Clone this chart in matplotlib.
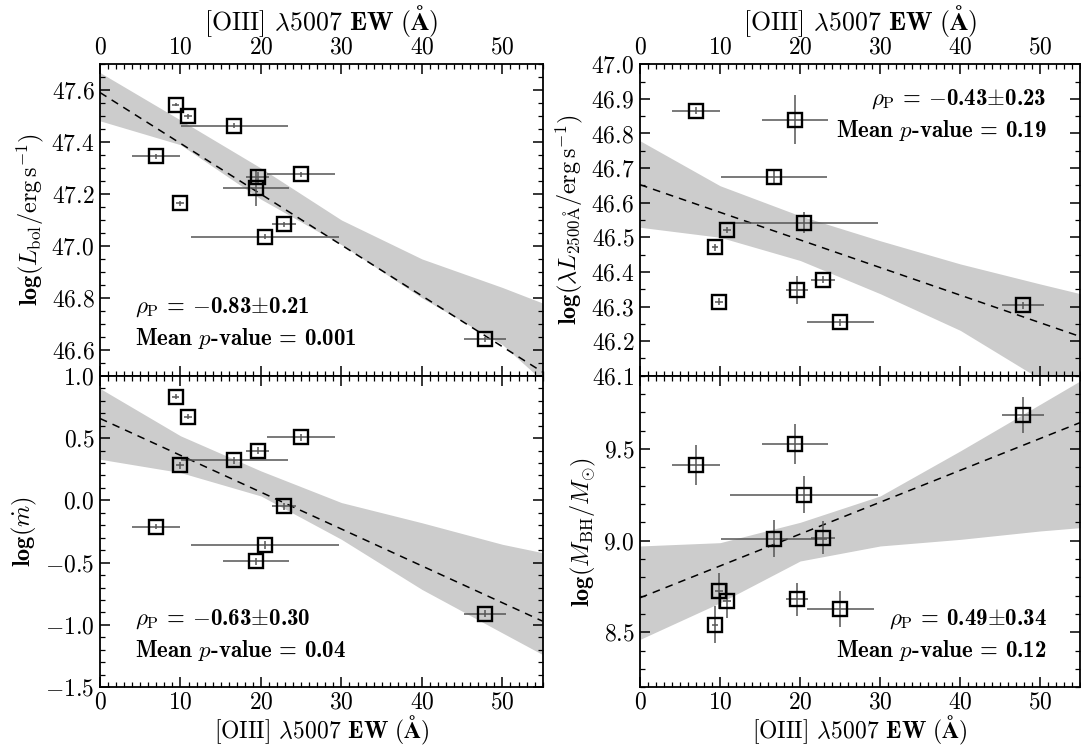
import numpy as np
import matplotlib.pyplot as plt
from matplotlib.ticker import MultipleLocator

plt.rc('mathtext', fontset='cm')
plt.rc('font', family='serif', size=17)
plt.rc('font', serif=['cmr10'])
plt.rcParams['axes.formatter.use_mathtext'] = True
plt.rcParams['axes.linewidth'] = 1.3

# [OIII] 5007 EW and errors, one entry per object
ew = [7.0, 9.4, 9.9, 10.9, 16.7, 19.6, 19.4, 20.5, 22.9, 25.0, 47.8]
ew_err = [3.0, 0.4, 0.5, 0.5, 6.6, 1.4, 4.1, 9.2, 1.5, 4.2, 2.6]

lbol = [47.345, 47.544, 47.165, 47.50, 47.463, 47.264, 47.223, 47.035, 47.083, 47.276, 46.641]
lbol_err = [0.01, 0.005, 0.01, 0.01, 0.01, 0.02, 0.07, 0.01, 0.01, 0.01, 0.01]

l2500 = [46.866, 46.471, 46.314, 46.521, 46.673, 46.347, 46.840, 46.542, 46.378, 46.254, 46.304]
l2500_err = [0.01, 0.01, 0.01, 0.01, 0.02, 0.04, 0.07, 0.03, 0.01, 0.01, 0.01]

mdot = [-0.21, 0.83, 0.28, 0.67, 0.32, 0.40, -0.49, -0.36, -0.048, 0.506, -0.91]
mdot_err = [0.02, 0.02, 0.03, 0.02, 0.03, 0.03, 0.03, 0.03, 0.03, 0.03, 0.03]

mbh = [9.414, 8.542, 8.726, 8.673, 9.011, 8.680, 9.529, 9.251, 9.015, 8.627, 9.685]
mbh_err = [0.11, 0.10, 0.10, 0.095, 0.10, 0.09, 0.11, 0.10, 0.09, 0.10, 0.10]

# best-fit lines (values at x = 0 and 55)
fit_x = [0, 55]
lbol_fit = [47.591, 46.514]
l2500_fit = [46.652, 46.213]
mdot_fit = [0.657, -0.970]
mbh_fit = [8.688, 9.645]

# confidence bands
band_x = [0, 10, 20, 30, 40, 50, 55]
lbol_hi = [47.668, 47.485, 47.30, 47.10, 46.95, 46.84, 46.78]
lbol_lo = [47.482, 47.39, 47.18, 47.005, 46.80, 46.62, 46.48]
l2500_hi = [46.779, 46.649, 46.562, 46.49, 46.423, 46.365, 46.337]
l2500_lo = [46.529, 46.50, 46.433, 46.337, 46.231, 46.09, 46.00]
mdot_hi = [0.898, 0.518, 0.236, -0.018, -0.18, -0.353, -0.42]
mdot_lo = [0.33, 0.223, 0.035, -0.313, -0.715, -1.064, -1.238]
mbh_hi = [8.971, 8.989, 9.10, 9.244, 9.49, 9.745, 9.873]
mbh_lo = [8.461, 8.661, 8.889, 8.971, 9.007, 9.053, 9.071]

xlab = r'[OIII] $\lambda$5007 $\mathbf{EW\ (\AA)}$'

panels = [
    # y, yerr, fit, hi, lo, ylim, major, minor, ylabel, stats, text pos
    (lbol, lbol_err, lbol_fit, lbol_hi, lbol_lo, (46.5, 47.7), 0.2, 0.05,
     r'$\mathbf{log(}L_{\rm bol}/{\rm erg\,s^{-1}}\mathbf{)}$', ('-0.83', '0.21', '0.001'), (0.079, 0.221, 'left')),
    (l2500, l2500_err, l2500_fit, l2500_hi, l2500_lo, (46.1, 47.0), 0.1, 0.05,
     r'$\mathbf{log(}\lambda L_{2500{\rm \AA}}/{\rm erg\,s^{-1}}\mathbf{)}$', ('-0.43', '0.23', '0.19'), (0.923, 0.888, 'right')),
    (mdot, mdot_err, mdot_fit, mdot_hi, mdot_lo, (-1.5, 1.0), 0.5, 0.1,
     r'$\mathbf{log(}\dot{m}\mathbf{)}$', ('-0.63', '0.30', '0.04'), (0.079, 0.219, 'left')),
    (mbh, mbh_err, mbh_fit, mbh_hi, mbh_lo, (8.2, 9.9), 0.5, 0.1,
     r'$\mathbf{log(}M_{\rm BH}/M_{\odot}\mathbf{)}$', ('0.49', '0.34', '0.12'), (0.923, 0.219, 'right')),
]

fig = plt.figure(figsize=(10.81, 7.47), dpi=100)
boxes = [
    [0.0925, 0.497, 0.4095, 0.417],
    [0.592, 0.497, 0.4075, 0.417],
    [0.0925, 0.080, 0.4095, 0.417],
    [0.592, 0.080, 0.4075, 0.417],
]

for i, (y, yerr, fit, hi, lo, ylim, maj, mnr, ylabel, stats, pos) in enumerate(panels):
    ax = fig.add_axes(boxes[i])
    ax.fill_between(band_x, lo, hi, color='#cccccc', lw=0, zorder=1)
    ax.plot(fit_x, fit, ls=(0, (5, 4)), color='k', lw=1.1, zorder=2)
    ax.errorbar(ew, y, xerr=ew_err, yerr=yerr, fmt='none', ecolor='#555555',
                elinewidth=1.1, capsize=0, zorder=3)
    ax.plot(ew, y, 's', ms=9.5, mfc='none', mec='k', mew=1.7, zorder=4)

    ax.set_xlim(0, 55)
    ax.set_ylim(*ylim)
    ax.xaxis.set_major_locator(MultipleLocator(10))
    ax.xaxis.set_minor_locator(MultipleLocator(1))
    ax.yaxis.set_major_locator(MultipleLocator(maj))
    ax.yaxis.set_minor_locator(MultipleLocator(mnr))
    top = i < 2
    ax.tick_params(which='both', direction='in', top=True, right=True,
                   labeltop=top, labelbottom=not top, labelsize=17, pad=4)
    ax.tick_params(which='major', length=7, width=1.1)
    ax.tick_params(which='minor', length=3.5, width=0.9)
    if top:
        ax.xaxis.set_label_position('top')
        ax.set_xlabel(xlab, fontsize=18.5, labelpad=5)
    else:
        ax.tick_params(axis='x', pad=3)
        ax.set_xlabel(xlab, fontsize=17, labelpad=0.5)
    ax.set_ylabel(ylabel, fontsize=17.5, labelpad=4)

    r, e, p = stats
    tx, ty, ha = pos
    l1 = r'$\rho_{\rm P}$ = $-$' + r[1:] + r'$\pm$' + e if r[0] == '-' else \
        r'$\rho_{\rm P}$ = ' + r + r'$\pm$' + e
    l2 = r'Mean $p$-value = ' + p
    ax.text(tx, ty, l1, transform=ax.transAxes, family='cmb10', fontsize=16.5,
            ha=ha, va='center')
    ax.text(tx, ty - 0.1, l2, transform=ax.transAxes, family='cmb10', fontsize=16.5,
            ha=ha, va='center')

fig.savefig('out.png', dpi=100)
